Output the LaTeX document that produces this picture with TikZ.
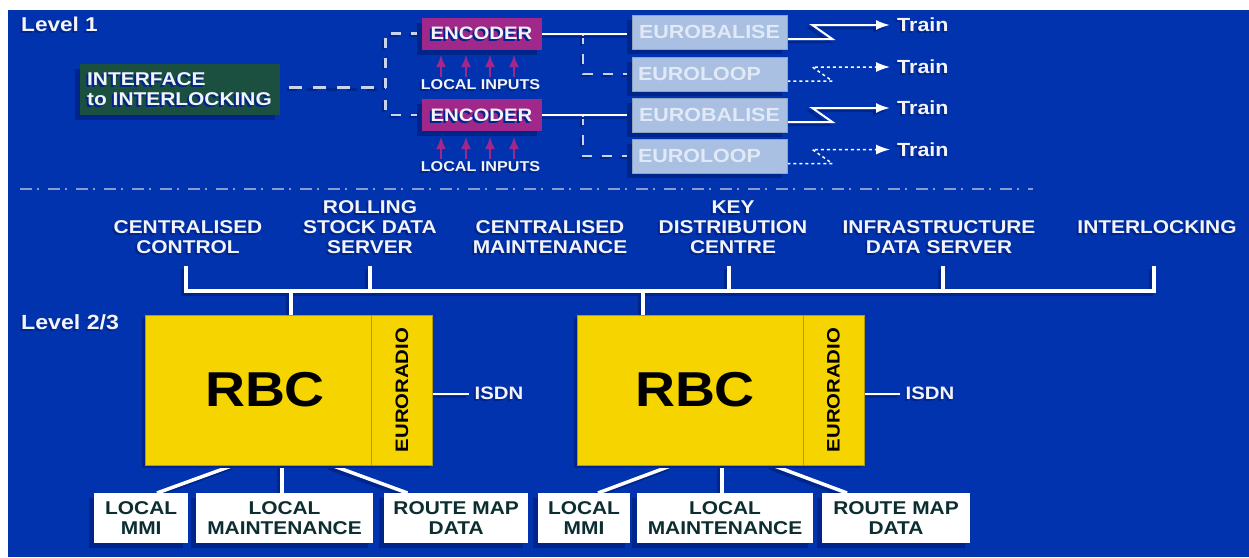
\documentclass[tikz,border=0pt]{standalone}
\usepackage{fontspec}
\newfontfamily\labfont[FakeStretch=1.13]{Liberation Sans Bold}
\usetikzlibrary{arrows.meta,shadows,backgrounds,calc}
\definecolor{bg}{HTML}{0033AD}
\definecolor{sh}{HTML}{00258A}
\definecolor{ink}{HTML}{F2F4FA}
\definecolor{dashc}{HTML}{C9D4EC}
\definecolor{sepc}{HTML}{8A9CCB}
\definecolor{encc}{HTML}{A0288A}
\definecolor{ifc}{HTML}{1B5040}
\definecolor{balc}{HTML}{A9C0E2}
\definecolor{baltxt}{HTML}{E2E9F6}
\definecolor{yel}{HTML}{F5D400}
\definecolor{yeld}{HTML}{B09A10}
\definecolor{dark}{HTML}{0C2E30}
\newcommand\stxt[1]{\leavevmode\rlap{\kern-2pt\smash{\raisebox{-2pt}{\color{sh}#1}}}#1}
\newcommand\fsz[2]{\fontsize{#1}{#2}\selectfont}
\tikzset{
  x=1pt,y=-1pt,
  boxbase/.style={rectangle,inner sep=0pt,general shadow={shadow xshift=-5pt,shadow yshift=-5pt,fill=sh}},
  enc/.style={boxbase,fill=encc,minimum width=120pt,minimum height=32pt,text=ink,font=\labfont\fsz{18}{20}},
  bal/.style={boxbase,fill=balc,draw=balc!85!black,line width=.6pt,minimum width=155pt,minimum height=34pt,text=baltxt,font=\labfont\fsz{19}{20}},
  wbox/.style={boxbase,fill=white,minimum height=50.5pt,text=dark,align=center,font=\labfont\fsz{18.5}{20}},
  lab/.style={inner sep=0pt,text=ink,align=center,font=\labfont\fsz{18.5}{20}},
  wline/.style={draw=white,line width=#1,preaction={draw=sh,line width=#1,transform canvas={xshift=-3pt,yshift=-3pt}}},
  wline/.default=2pt,
  dline/.style={draw=dashc,line width=2.5pt,dash pattern=on 10pt off 10pt,preaction={draw=sh,line width=2.5pt,dash pattern=on 10pt off 10pt,transform canvas={xshift=-2pt,yshift=-2pt}}},
  dots/.style={draw=white,line width=1.5pt,dash pattern=on 3pt off 3pt},
  txarrow/.style={-{Latex[length=14pt,width=10pt]}},
  inarrow/.style={draw=encc,line width=1.6pt,-{Latex[length=12pt,width=10pt]}},
  yellowbox/.style={rectangle,inner sep=0pt,fill=yel,draw=yeld,line width=.8pt}
}
\begin{document}
\begin{tikzpicture}
\useasboundingbox (0,0) rectangle (1249,557);

\node[lab,anchor=west,font=\labfont\fsz{20}{20}] (lev1) at (21,24) {\stxt{Level 1}};
\node[lab,anchor=west,font=\labfont\fsz{20.5}{20}] (lev2) at (21,322) {\stxt{Level 2/3}};

% Level 1
\node[boxbase,fill=ifc,minimum width=200pt,minimum height=51pt,text=ink,align=left,font=\labfont\fsz{18.5}{20}] (iface) at (179.5,89.5) {\stxt{INTERFACE}\\\stxt{to INTERLOCKING}};
\node[enc] (encA) at (481.5,33.5) {\stxt{ENCODER}};
\node[enc] (encB) at (481.5,115) {\stxt{ENCODER}};
\node[lab,font=\labfont\fsz{14.3}{16}] (inA) at (480.5,85) {\stxt{LOCAL INPUTS}};
\node[lab,font=\labfont\fsz{14.3}{16}] (inB) at (480.5,167) {\stxt{LOCAL INPUTS}};
\node[bal] (balA) at (709.5,32) {EUROBALISE};
\node[bal] (loopA) at (709.5,74) {EUROLOOP\hspace*{20pt}};
\node[bal] (balB) at (709.5,115) {EUROBALISE};
\node[bal] (loopB) at (709.5,156) {EUROLOOP\hspace*{20pt}};
\node[lab,anchor=west,text height=13.6pt,font=\labfont\fsz{19}{20}] (trA) at (897,25) {\stxt{Train}};
\node[lab,anchor=west,text height=13.6pt,font=\labfont\fsz{19}{20}] (trB) at (897,67) {\stxt{Train}};
\node[lab,anchor=west,text height=13.6pt,font=\labfont\fsz{19}{20}] (trC) at (897,108) {\stxt{Train}};
\node[lab,anchor=west,text height=13.6pt,font=\labfont\fsz{19}{20}] (trD) at (897,149.5) {\stxt{Train}};

% Level 2/3 labels
\node[lab] (cc) at (188,237) {\stxt{CENTRALISED}\\\stxt{CONTROL}};
\node[lab] (rs) at (370,227) {\stxt{ROLLING}\\\stxt{STOCK DATA}\\\stxt{SERVER}};
\node[lab] (cm) at (550,237) {\stxt{CENTRALISED}\\\stxt{MAINTENANCE}};
\node[lab] (kd) at (733,227) {\stxt{KEY}\\\stxt{DISTRIBUTION}\\\stxt{CENTRE}};
\node[lab] (id) at (939,237) {\stxt{INFRASTRUCTURE}\\\stxt{DATA SERVER}};
\node[lab] (il) at (1157,227) {\stxt{INTERLOCKING}};

% RBCs
\node[yellowbox,general shadow={shadow xshift=-3pt,shadow yshift=-3pt,fill=sh},minimum width=287.5pt,minimum height=150pt] (shA) at (288.8,390) {};
\node[yellowbox,minimum width=226pt,minimum height=150pt,text=black,font=\labfont\fsz{49}{50}] (rbcA) at (258,390) {\hspace*{14pt}RBC};
\node[yellowbox,rotate=90,minimum width=150pt,minimum height=61.6pt,text=black,font=\labfont\fsz{18}{20}] (radA) at (401.8,390) {EURORADIO};
\node[yellowbox,general shadow={shadow xshift=-3pt,shadow yshift=-3pt,fill=sh},minimum width=287pt,minimum height=150pt] (shB) at (720.5,390) {};
\node[yellowbox,minimum width=226pt,minimum height=150pt,text=black,font=\labfont\fsz{49}{50}] (rbcB) at (690,390) {\hspace*{10pt}RBC};
\node[yellowbox,rotate=90,minimum width=150pt,minimum height=61pt,text=black,font=\labfont\fsz{18}{20}] (radB) at (833.5,390) {EURORADIO};
\node[lab,anchor=west,inner xsep=5.5pt,font=\labfont\fsz{18}{20}] (isA) at (469,393.5) {\stxt{ISDN}};
\node[lab,anchor=west,inner xsep=5.5pt,font=\labfont\fsz{18}{20}] (isB) at (900,393.5) {\stxt{ISDN}};

% Bottom boxes
\node[wbox,minimum width=93.5pt] (mmiA) at (141.2,518) {LOCAL\\MMI};
\node[wbox,minimum width=177pt] (mntA) at (284.5,518) {LOCAL\\MAINTENANCE};
\node[wbox,minimum width=144.5pt] (mapA) at (456.2,518) {ROUTE MAP\\DATA};
\node[wbox,minimum width=92pt] (mmiB) at (584,518) {LOCAL\\MMI};
\node[wbox,minimum width=176pt] (mntB) at (725,518) {LOCAL\\MAINTENANCE};
\node[wbox,minimum width=148pt] (mapB) at (896,518) {ROUTE MAP\\DATA};

% Named free ends
\coordinate (sepL) at (20,189);
\coordinate (sepR) at (1033,189);
\coordinate (busL) at (186,291);
\coordinate (busR) at (1153.5,291);
\coordinate (hubA) at (290.6,291);
\coordinate (hubB) at (643,291);
\coordinate (upB) at (370,291);
\coordinate (upC) at (728.5,291);
\coordinate (upD) at (943,291);
\coordinate (topY) at (0,266);
\coordinate (ifEnd) at (289,87.7);
\coordinate (corner) at (385.5,87.7);
\coordinate (cornerB) at (385.5,100);
\coordinate (brA) at (583,33.5);
\coordinate (brB) at (583,115);
\coordinate (stubA) at (234,465);
\coordinate (stubB) at (282,465);
\coordinate (stubC) at (331,465);
\coordinate (stubD) at (673,465);
\coordinate (stubE) at (722,465);
\coordinate (stubF) at (772,465);
\coordinate (footA) at (157,493);
\coordinate (footC) at (407.5,493);
\coordinate (footD) at (598,493);
\coordinate (footF) at (847,493);

\begin{scope}[on background layer]
\fill[white] (0,0) rectangle (1249,557);
\fill[bg] (8,10) rectangle (1249,557);
\draw[sepc,line width=2pt,dash pattern=on 12pt off 5pt on 2pt off 9pt] (sepL) -- (sepR);

% interface to encoders
\path[dline,dash pattern=on 13pt off 11pt] (ifEnd) -- (corner);
\path[dline] (corner) -- (corner |- encA.west) -- (encA.west);
\path[dline] (cornerB) -- (cornerB |- encB.west) -- (encB.west);

% encoder to balises
\path[dline] (brA) -- (brA |- loopA.west) -- (loopA.west);
\path[dline] (brB) -- (brB |- loopB.west) -- (loopB.west);
\path[wline] (encA.east) -- (encA.east -| balA.west);
\path[wline] (encB.east) -- (encB.east -| balB.west);

% radio links
\path[wline,txarrow] ($(balA.east)+(0,7)$) -- ++(45,0) -- ++(-20,-14) -- ($(trA.west)+(-7,0)$);
\path[wline,txarrow] ($(balB.east)+(0,7)$) -- ++(45,0) -- ++(-20,-14) -- ($(trC.west)+(-7,0)$);
\path[dots,txarrow] ($(loopA.east)+(0,7)$) -- ++(45,0) -- ++(-20,-14) -- ($(trB.west)+(-7,0)$);
\path[dots,txarrow] ($(loopB.east)+(0,7.5)$) -- ++(45,0) -- ++(-20,-14) -- ($(trD.west)+(-7,0)$);

% bus
\path[wline=4pt] (upB) -- (upB |- topY);
\path[wline=4pt] (upC) -- (upC |- topY);
\path[wline=4pt] (upD) -- (upD |- topY);
\path[wline=4pt,line join=miter] (busL |- topY) -- (busL) -- (busR) -- (busR |- topY);
\path[wline=4pt] (hubA) -- (hubA |- rbcA.north);
\path[wline=4pt] (hubB) -- (hubB |- rbcB.north);

% ISDN
\path[wline] (radA.south |- isA) -- (isA.west);
\path[wline] (radB.south |- isB) -- (isB.west);

% RBC to bottom boxes
\path[wline=3.5pt] (stubA) -- (footA);
\path[wline=3.5pt] (stubB) -- (stubB |- mntA.north);
\path[wline=3.5pt] (stubC) -- (footC);
\path[wline=3.5pt] (stubD) -- (footD);
\path[wline=3.5pt] (stubE) -- (stubE |- mntB.north);
\path[wline=3.5pt] (stubF) -- (footF);
\end{scope}

% local inputs
\foreach \xx/\nn in {441/1,466/2,490/3,514/4}{
  \coordinate (ia\nn) at (\xx,77);
  \coordinate (ta\nn) at (\xx,55);
  \coordinate (ib\nn) at (\xx,159);
  \coordinate (tb\nn) at (\xx,137);
  \draw[inarrow] (ia\nn) -- (ta\nn);
  \draw[inarrow] (ib\nn) -- (tb\nn);
}
\end{tikzpicture}
\end{document}
